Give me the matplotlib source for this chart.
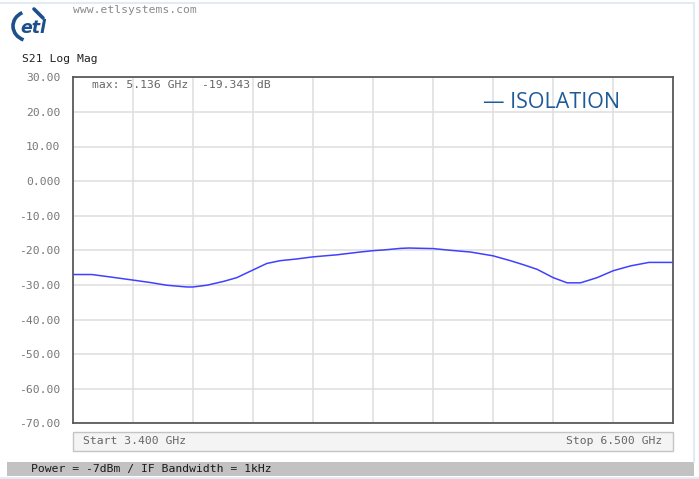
import matplotlib
matplotlib.use('Agg')
import numpy as np
import matplotlib.pyplot as plt
from matplotlib.patches import Rectangle, Arc

# ---- data ----
freq_ghz = [3.400, 3.498, 3.593, 3.710, 3.799, 3.886, 3.989, 4.020, 4.092, 4.178,
            4.247, 4.330, 4.402, 4.471, 4.557, 4.640, 4.764, 4.884, 4.952, 5.005,
            5.091, 5.136, 5.177, 5.260, 5.350, 5.453, 5.570, 5.659, 5.728, 5.797,
            5.880, 5.952, 6.021, 6.107, 6.190, 6.280, 6.374, 6.500]
s21_db = [-27.0, -27.0, -27.7, -28.6, -29.3, -30.1, -30.6, -30.6, -30.1, -29.0,
          -27.9, -25.7, -23.8, -23.0, -22.5, -21.9, -21.3, -20.5, -20.1, -19.9,
          -19.45, -19.34, -19.4, -19.5, -20.0, -20.5, -21.6, -23.0, -24.2, -25.5,
          -27.9, -29.4, -29.4, -27.9, -25.9, -24.5, -23.5, -23.5]
y_ticks = [30, 20, 10, 0, -10, -20, -30, -40, -50, -60, -70]
y_tick_labels = ["30.00", "20.00", "10.00", "0.000", "-10.00", "-20.00",
                 "-30.00", "-40.00", "-50.00", "-60.00", "-70.00"]
f_start, f_stop = 3.4, 6.5
n_div = 10
trace_name = "ISOLATION"
title = "S21 Log Mag"
marker_text = "max: 5.136 GHz  -19.343 dB"
start_text = "Start 3.400 GHz"
stop_text = "Stop 6.500 GHz"
footer_text = "Power = -7dBm / IF Bandwidth = 1kHz"
url_text = "www.etlsystems.com"

W, H = 699, 479
mono = 'DejaVu Sans Mono'
fig = plt.figure(figsize=(W / 100, H / 100), dpi=100)

# decoration layer in pixel coordinates
deco = fig.add_axes([0, 0, 1, 1])
deco.set_xlim(0, W)
deco.set_ylim(H, 0)
deco.axis('off')

# light outer frame
deco.plot([0, 694], [3, 3], color='#e2eaf4', lw=1.5)
deco.plot([694, 694], [3, 462], color='#e2eaf4', lw=1.5)
deco.plot([0, W], [477.5, 477.5], color='#e2eaf4', lw=1.5)

# logo
logo_c = '#1d4f8c'
deco.add_patch(Arc((30, 26), 34, 30, theta1=115, theta2=240, color=logo_c, lw=2.6))
deco.plot([34, 43], [9, 18], color=logo_c, lw=2.6, solid_capstyle='round')
deco.text(20, 28, "etl", fontsize=12.5, fontweight='bold', fontstyle='italic',
          color=logo_c, va='center', ha='left', family='DejaVu Sans')

deco.text(73, 10, url_text, fontsize=8.2, family=mono, color='#8a8a8a', va='center')
deco.text(22, 59, title, fontsize=8.2, family=mono, color='#222222', va='center')

# start/stop box
x0, x1 = 72.7, 673.3
deco.add_patch(Rectangle((x0, 432), x1 - x0, 19, facecolor='#f4f4f4',
                         edgecolor='#c4c4c4', lw=1))
deco.text(83, 441.5, start_text, fontsize=8.2, family=mono, color='#666666', va='center')
deco.text(662, 441.5, stop_text, fontsize=8.2, family=mono, color='#666666',
          va='center', ha='right')

# footer bar
deco.add_patch(Rectangle((7, 462), 687, 14, facecolor='#c2c2c2', edgecolor='none'))
deco.text(31, 469, footer_text, fontsize=8.2, family=mono, color='#1a1a1a', va='center')

# ---- main plot ----
ax = fig.add_axes([x0 / W, 1 - 423.3 / H, (x1 - x0) / W, (423.3 - 77.3) / H])
ax.plot(freq_ghz, s21_db, color='#4040ff', lw=1.1, zorder=3)
ax.set_xlim(f_start, f_stop)
ax.set_ylim(min(y_ticks), max(y_ticks))
ax.set_xticks(np.linspace(f_start, f_stop, n_div + 1))
ax.set_xticklabels([])
ax.set_yticks(y_ticks)
ax.set_yticklabels(y_tick_labels, family=mono, fontsize=8.2, color='#777777')
ax.tick_params(axis='both', length=0, pad=9)
ax.grid(True, color='#e0e0e0', lw=1.2, zorder=0)
ax.set_axisbelow(True)
for s in ax.spines.values():
    s.set_color('#5a5a5a')
    s.set_linewidth(1.3)

ax.text(0.032, 0.978, marker_text, transform=ax.transAxes, fontsize=8.2,
        family=mono, color='#666666', va='center', ha='left')

# trace label (drawn on the main axes so it sits above its background)
ax.text(483, 102, "\u2014 " + trace_name, transform=deco.transData,
        fontsize=15.5, family='Open Sans', color='#1f5b98', va='center',
        ha='left', zorder=5)

fig.savefig('out.png', dpi=100)
